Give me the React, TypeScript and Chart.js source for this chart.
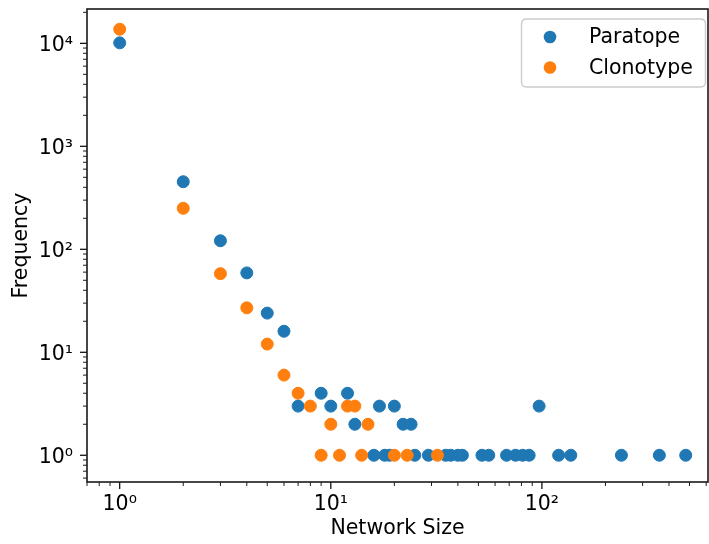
import React, { useEffect, useRef } from 'react';
import { Chart, registerables } from 'chart.js';

Chart.register(...registerables);

const FONT = 'DejaVu Sans';

// Data
const paratopeX = [1, 2, 3, 4, 5, 6, 7, 9, 10, 12, 13, 16, 17, 18, 19, 20, 22, 24, 25, 29, 35, 37, 40, 42, 52, 56, 68, 75, 81, 87, 97, 120, 137, 238, 360, 480];
const paratopeY = [10100, 453, 121, 59, 24, 16, 3, 4, 3, 4, 2, 1, 3, 1, 1, 3, 2, 2, 1, 1, 1, 1, 1, 1, 1, 1, 1, 1, 1, 1, 3, 1, 1, 1, 1, 1];

const clonotypeX = [1, 2, 3, 4, 5, 6, 7, 8, 9, 10, 11, 12, 13, 14, 15, 20, 23, 32];
const clonotypeY = [13700, 250, 58, 27, 12, 6, 4, 3, 1, 2, 1, 3, 3, 1, 2, 1, 1, 1];

const seriesLabels = ['Paratope', 'Clonotype'];
const seriesColors = ['#1f77b4', '#ff7f0e'];

const xTickValues = [1, 10, 100];
const yTickValues = [1, 10, 100, 1000, 10000];
const xRange = [0.728, 612];
const yRange = [0.55, 21540];

const xTitle = 'Network Size';
const yTitle = 'Frequency';

const SUP: Record<string, string> = { '0': '⁰', '1': '¹', '2': '²', '3': '³', '4': '⁴', '5': '⁵', '6': '⁶', '7': '⁷', '8': '⁸', '9': '⁹', '-': '⁻' };
const fmtPow = (v: number) => {
  const e = Math.round(Math.log10(v));
  return '10' + String(e).split('').map((c) => SUP[c] ?? c).join('');
};

const decorPlugin = {
  id: 'decor',
  afterDatasetsDraw(chart: any) {
    const { ctx, chartArea: a, scales } = chart;
    const xs = scales.x;
    const ys = scales.y;
    ctx.save();
    ctx.strokeStyle = '#000';
    // tick marks (major + minor)
    for (let d = -1; d <= 4; d++) {
      for (let k = 1; k <= 9; k++) {
        const v = k * Math.pow(10, d);
        const major = k === 1;
        const len = major ? 7 : 4;
        ctx.lineWidth = major ? 1.2 : 0.9;
        if (v >= xs.min && v <= xs.max) {
          const p = xs.getPixelForValue(v);
          ctx.beginPath();
          ctx.moveTo(p, a.bottom);
          ctx.lineTo(p, a.bottom + len);
          ctx.stroke();
        }
        if (v >= ys.min && v <= ys.max) {
          const p = ys.getPixelForValue(v);
          ctx.beginPath();
          ctx.moveTo(a.left, p);
          ctx.lineTo(a.left - len, p);
          ctx.stroke();
        }
      }
    }
    // spines
    ctx.lineWidth = 1.6;
    ctx.strokeStyle = '#1a1a1a';
    ctx.strokeRect(a.left, a.top, a.right - a.left, a.bottom - a.top);

    // legend
    const bx = 521.5, by = 19, bw = 184, bh = 68, r = 5;
    ctx.beginPath();
    ctx.moveTo(bx + r, by);
    ctx.lineTo(bx + bw - r, by);
    ctx.quadraticCurveTo(bx + bw, by, bx + bw, by + r);
    ctx.lineTo(bx + bw, by + bh - r);
    ctx.quadraticCurveTo(bx + bw, by + bh, bx + bw - r, by + bh);
    ctx.lineTo(bx + r, by + bh);
    ctx.quadraticCurveTo(bx, by + bh, bx, by + bh - r);
    ctx.lineTo(bx, by + r);
    ctx.quadraticCurveTo(bx, by, bx + r, by);
    ctx.closePath();
    ctx.fillStyle = 'rgba(255,255,255,0.8)';
    ctx.fill();
    ctx.strokeStyle = '#cccccc';
    ctx.lineWidth = 1.4;
    ctx.stroke();

    const ds = chart.data.datasets;
    ctx.font = `20.5px "${FONT}"`;
    ctx.textBaseline = 'middle';
    ctx.textAlign = 'left';
    for (let i = 0; i < ds.length; i++) {
      const cy = 37 + i * 30.5;
      ctx.beginPath();
      ctx.arc(550, cy, 6.3, 0, Math.PI * 2);
      ctx.fillStyle = ds[i].backgroundColor;
      ctx.fill();
      ctx.fillStyle = '#000';
      ctx.fillText(ds[i].label, 589, cy + 1);
    }
    ctx.restore();
  },
};

const zeroPad = (s: any) => {
  s.paddingTop = 0;
  s.paddingBottom = 0;
  s.paddingLeft = 0;
  s.paddingRight = 0;
};

export default function App() {
  const ref = useRef<HTMLCanvasElement | null>(null);
  useEffect(() => {
    if (!ref.current) return;
    const mk = (xs: number[], ys: number[]) => xs.map((x, i) => ({ x, y: ys[i] }));
    const chart = new Chart(ref.current, {
      type: 'scatter',
      data: {
        datasets: [
          {
            label: seriesLabels[0],
            data: mk(paratopeX, paratopeY),
            backgroundColor: seriesColors[0],
            borderColor: seriesColors[0],
            pointRadius: 6,
            borderWidth: 1,
            order: 1,
          },
          {
            label: seriesLabels[1],
            data: mk(clonotypeX, clonotypeY),
            backgroundColor: seriesColors[1],
            borderColor: seriesColors[1],
            pointRadius: 6,
            borderWidth: 1,
            order: 0,
          },
        ],
      },
      options: {
        responsive: false,
        animation: false,
        devicePixelRatio: 1,
        layout: { autoPadding: false, padding: { top: 9, right: 1, left: 0, bottom: 0 } },
        plugins: { legend: { display: false }, tooltip: { enabled: false } },
        scales: {
          x: {
            type: 'logarithmic',
            position: 'bottom',
            min: xRange[0],
            max: xRange[1],
            afterFit: (s: any) => {
              s.height = 62;
              zeroPad(s);
            },
            afterBuildTicks: (s: any) => {
              s.ticks = xTickValues.map((v) => ({ value: v }));
            },
            grid: { display: true, drawOnChartArea: false, drawTicks: true, tickLength: 7, color: 'rgba(0,0,0,0)' },
            border: { display: false },
            ticks: {
              autoSkip: false,
              maxRotation: 0,
              padding: 3,
              color: '#000',
              font: { family: FONT, size: 20.5 },
              callback: (v: any) => fmtPow(Number(v)),
            },
            title: {
              display: true,
              text: xTitle,
              color: '#000',
              font: { family: FONT, size: 20.5 },
              padding: { top: 0, bottom: 3 },
            },
          },
          y: {
            type: 'logarithmic',
            position: 'left',
            min: yRange[0],
            max: yRange[1],
            afterFit: (s: any) => {
              s.width = 87;
              zeroPad(s);
            },
            afterBuildTicks: (s: any) => {
              s.ticks = yTickValues.map((v) => ({ value: v }));
            },
            grid: { display: true, drawOnChartArea: false, drawTicks: true, tickLength: 7, color: 'rgba(0,0,0,0)' },
            border: { display: false },
            ticks: {
              autoSkip: false,
              padding: 7,
              labelOffset: 2,
              color: '#000',
              font: { family: FONT, size: 20.5 },
              callback: (v: any) => fmtPow(Number(v)),
            },
            title: {
              display: true,
              text: yTitle,
              color: '#000',
              font: { family: FONT, size: 20.5 },
              padding: { top: 9, bottom: 0 },
            },
          },
        },
      },
      plugins: [decorPlugin],
    } as any);
    return () => chart.destroy();
  }, []);
  return (
    <div style={{ position: 'fixed', left: 0, top: 0, width: 709, height: 544, background: '#fff' }}>
      <canvas ref={ref} width={709} height={544} style={{ display: 'block' }} />
    </div>
  );
}
